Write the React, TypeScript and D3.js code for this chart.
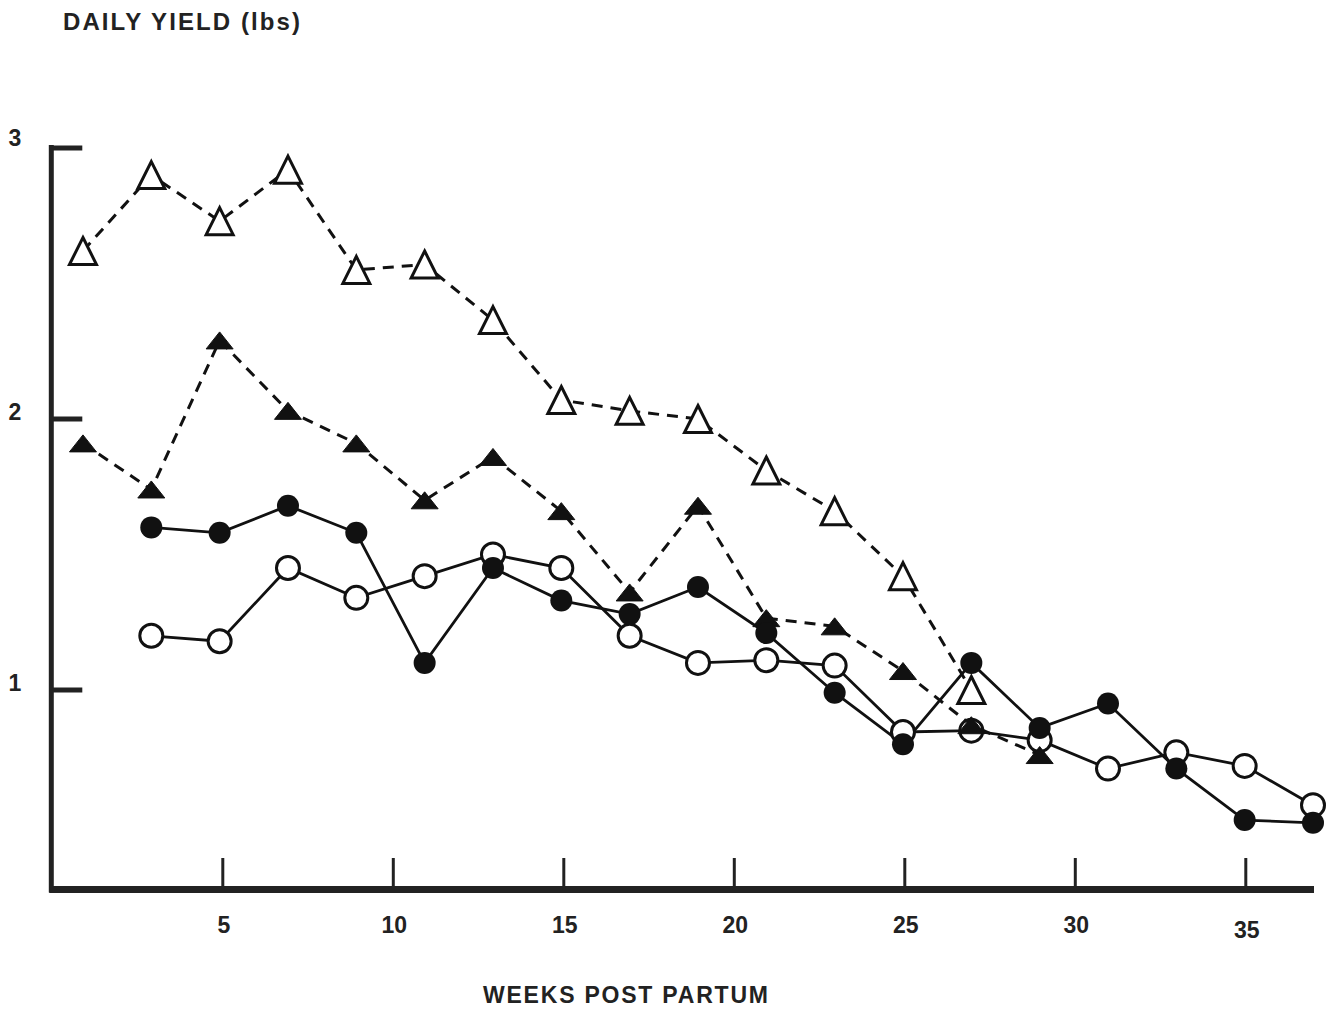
import React from "react";
import * as d3 from "d3";

const W = 1335;
const H = 1010;

const xTicks = [5, 10, 15, 20, 25, 30, 35];
const yTicks = [1, 2, 3];

const weeksOpenTri = [1, 3, 5, 7, 9, 11, 13, 15, 17, 19, 21, 23, 25, 27];
const openTri = [2.62, 2.9, 2.73, 2.92, 2.55, 2.57, 2.365, 2.07, 2.03, 2.0, 1.81, 1.66, 1.42, 1.0];

const weeksFilledTri = [1, 3, 5, 7, 9, 11, 13, 15, 17, 19, 21, 23, 25, 27, 29];
const filledTri = [1.91, 1.74, 2.29, 2.03, 1.91, 1.7, 1.86, 1.66, 1.36, 1.68, 1.265, 1.235, 1.07, 0.87, 0.76];

const weeksCircles = [3, 5, 7, 9, 11, 13, 15, 17, 19, 21, 23, 25, 27, 29, 31, 33, 35, 37];
const filledCircle = [1.6, 1.58, 1.68, 1.58, 1.1, 1.45, 1.33, 1.28, 1.38, 1.21, 0.99, 0.8, 1.1, 0.86, 0.95, 0.71, 0.52, 0.51];
const openCircle = [1.2, 1.18, 1.45, 1.34, 1.42, 1.5, 1.45, 1.2, 1.1, 1.11, 1.09, 0.845, 0.85, 0.815, 0.71, 0.77, 0.72, 0.575];

const FONT = "'Liberation Sans', Arial, Helvetica, sans-serif";

export default function App() {
  // axis scale (ticks) and plotting scale (points are drawn very slightly left in the original)
  const xAxis = d3.scaleLinear().domain([0, 37]).range([52.3, 1314]);
  const x = d3.scaleLinear().domain([0, 37]).range([48.8, 1313]);
  const y = d3.scaleLinear().domain([1, 3]).range([690, 148]);
  const yBottom = 889.5;

  const line = d3
    .line<[number, number]>()
    .x((d) => x(d[0]))
    .y((d) => y(d[1]));

  const zip = (ws: number[], vs: number[]) => ws.map((w, i) => [w, vs[i]] as [number, number]);

  const oc = zip(weeksCircles, openCircle);
  const fc = zip(weeksCircles, filledCircle);
  const ot = zip(weeksOpenTri, openTri);
  const ft = zip(weeksFilledTri, filledTri);

  const triPath = (cx: number, cy: number, w: number, h: number) =>
    `M${cx},${cy - h / 2}L${cx + w / 2},${cy + h / 2}L${cx - w / 2},${cy + h / 2}Z`;

  return (
    <svg
      width={W}
      height={H}
      style={{ position: "absolute", left: 0, top: 0, background: "#fff", display: "block" }}
    >
      <rect x={0} y={0} width={W} height={H} fill="#fff" />
      {/* Axis title */}
      <text
        x={63}
        y={30}
        fontFamily={FONT}
        fontWeight="bold"
        fontSize={24}
        fill="#222"
        textLength={237}
        lengthAdjust="spacing"
      >
        DAILY YIELD (lbs)
      </text>

      {/* Y axis */}
      <line x1={xAxis(0) - 1} x2={xAxis(0) - 1} y1={y(3) - 3} y2={yBottom + 3} stroke="#222" strokeWidth={5} />
      {yTicks.map((t) => (
        <g key={"yt" + t}>
          <line x1={xAxis(0) - 3} x2={xAxis(0) + 30} y1={y(t)} y2={y(t)} stroke="#222" strokeWidth={5} />
          <text
            x={15}
            y={y(t) + (t === 3 ? -2 : 1)}
            textAnchor="middle"
            fontFamily={FONT}
            fontWeight="bold"
            fontSize={23}
            fill="#222"
          >
            {t}
          </text>
        </g>
      ))}

      {/* X axis */}
      <line x1={xAxis(0) - 3} x2={xAxis(37)} y1={yBottom} y2={yBottom} stroke="#222" strokeWidth={7} />
      {xTicks.map((t) => (
        <g key={"xt" + t}>
          <line x1={xAxis(t)} x2={xAxis(t)} y1={858} y2={yBottom} stroke="#222" strokeWidth={3} />
          <text
            x={xAxis(t) + 1}
            y={t === 35 ? 938 : 933}
            textAnchor="middle"
            fontFamily={FONT}
            fontWeight="bold"
            fontSize={23}
            fill="#222"
          >
            {t}
          </text>
        </g>
      ))}
      <text
        x={483}
        y={1003}
        fontFamily={FONT}
        fontWeight="bold"
        fontSize={23}
        fill="#222"
        textLength={285}
        lengthAdjust="spacing"
      >
        WEEKS POST PARTUM
      </text>

      {/* Lines */}
      <path d={line(ot) || ""} fill="none" stroke="#111" strokeWidth={3} strokeDasharray="11 8" />
      <path d={line(ft) || ""} fill="none" stroke="#111" strokeWidth={3} strokeDasharray="11 8" />
      <path d={line(oc) || ""} fill="none" stroke="#111" strokeWidth={2.8} />
      <path d={line(fc) || ""} fill="none" stroke="#111" strokeWidth={2.8} />

      {/* Markers */}
      {oc.map((d, i) => (
        <circle key={"oc" + i} cx={x(d[0])} cy={y(d[1])} r={11.5} fill="#fff" stroke="#111" strokeWidth={3} />
      ))}
      {ft.map((d, i) => (
        <path key={"ft" + i} d={triPath(x(d[0]), y(d[1]), 27, 17)} fill="#111" stroke="#111" strokeWidth={1} />
      ))}
      {ot.map((d, i) => (
        <path
          key={"ot" + i}
          d={triPath(x(d[0]), y(d[1]), 27, 27)}
          fill="#fff"
          stroke="#111"
          strokeWidth={3}
          strokeLinejoin="miter"
        />
      ))}
      {fc.map((d, i) => (
        <circle key={"fc" + i} cx={x(d[0])} cy={y(d[1])} r={11} fill="#111" />
      ))}
    </svg>
  );
}
